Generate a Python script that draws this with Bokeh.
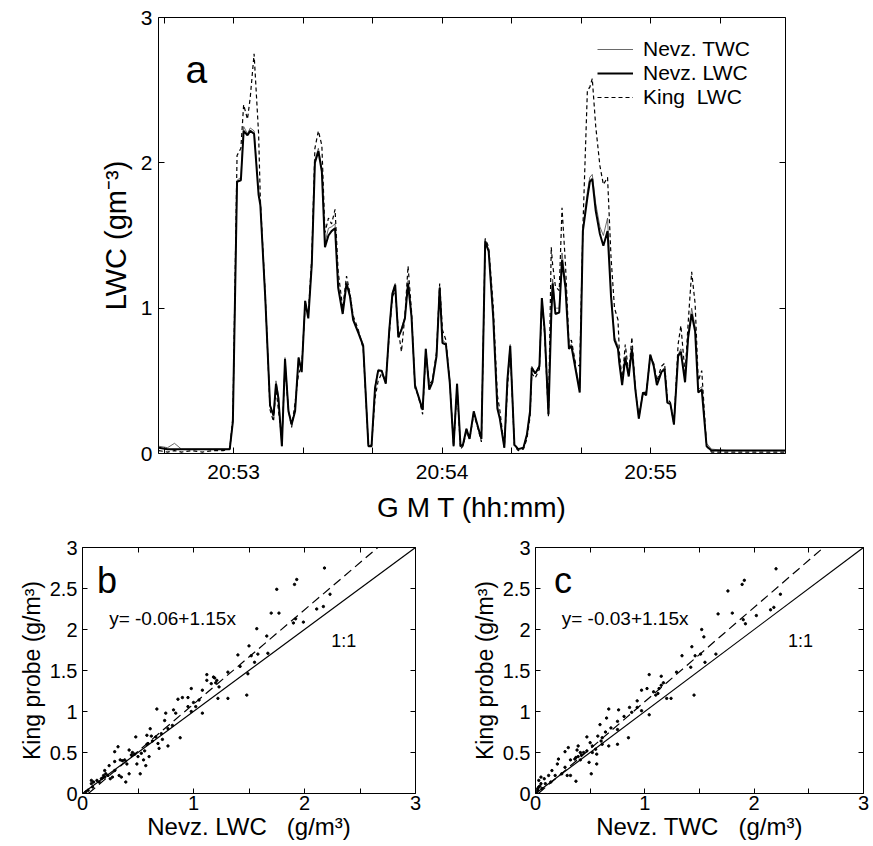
from bokeh.plotting import figure
from bokeh.models import Range1d, FixedTicker, LinearAxis, Legend, LegendItem, Label, Slope
from bokeh.layouts import column, row
from bokeh.embed import file_html
from bokeh.resources import INLINE

FONT = "Liberation Sans"

# ---------------- panel a data (seconds after 20:53:00) ----------------
t_sec = [-21.5, -19, -17, -15, -12, -9, -6, -3, -1.1, -0.2,
         1.0, 2.1, 2.9, 4.0, 4.8, 5.9, 7.2, 7.7, 9.1, 10.5,
         11.5, 12.2, 12.9, 13.9, 14.8, 15.8, 16.7, 17.7, 18.7, 19.6,
         20.6, 21.5, 22.5, 23.4, 24.4, 25.4, 26.3, 27.3, 28.2, 29.2,
         30.1, 31.4, 32.5, 33.5, 34.4, 35.9, 37.3, 38.8, 39.7, 40.7,
         41.6, 42.6, 43.8, 44.8, 45.7, 46.5, 47.4, 48.3, 49.3, 50.2,
         51.2, 52.2, 53.1, 54.4, 55.3, 56.3, 57.2, 58.4, 59.3, 60.1,
         61.1, 62.2, 63.3, 64.3, 65.3, 66.0, 67.0, 67.9, 69.1, 70.0,
         71.3, 72.4, 73.4, 74.7, 75.9, 76.6, 77.9, 78.8, 79.6, 80.8,
         81.9, 83.4, 84.4, 85.3, 85.8, 86.8, 88.0, 88.7, 89.5, 90.6,
         91.4, 91.8, 92.6, 93.7, 94.5, 95.5, 96.5, 97.2, 98.4, 99.6,
         100.5, 101.8, 102.5, 103.2, 104.2, 105.4, 106.4, 107.6, 108.6, 109.6,
         110.6, 111.0, 111.8, 112.7, 113.7, 114.6, 115.6, 116.6, 117.8, 118.7,
         119.9, 120.9, 121.8, 123.1, 124.0, 124.8, 125.7, 126.7, 127.9, 128.7,
         129.9, 130.8, 131.8, 132.8, 133.7, 134.7, 136.1, 137.5, 142, 148,
         154, 158.8]

nevz_lwc = [0.04, 0.03, 0.03, 0.03, 0.03, 0.03, 0.03, 0.03, 0.03, 0.22,
            1.87, 1.88, 2.22, 2.19, 2.22, 2.20, 1.78, 1.71, 1.08, 0.33,
            0.26, 0.48, 0.38, 0.05, 0.65, 0.29, 0.20, 0.29, 0.66, 0.56,
            1.05, 0.93, 1.30, 2.00, 2.08, 1.94, 1.42, 1.50, 1.53, 1.55,
            1.14, 0.96, 1.17, 1.08, 0.92, 0.83, 0.74, 0.05, 0.05, 0.45,
            0.57, 0.57, 0.48, 0.85, 1.10, 1.16, 0.80, 0.85, 0.93, 1.17,
            0.94, 0.47, 0.40, 0.30, 0.72, 0.44, 0.49, 0.67, 1.14, 0.76,
            0.75, 0.49, 0.05, 0.48, 0.05, 0.06, 0.17, 0.10, 0.29, 0.21,
            0.10, 1.46, 1.39, 0.94, 0.31, 0.24, 0.04, 0.51, 0.74, 0.06,
            0.03, 0.04, 0.13, 0.29, 0.59, 0.55, 0.60, 1.07, 0.85, 0.27,
            0.94, 1.17, 0.96, 0.97, 1.33, 1.14, 0.72, 0.74, 0.58, 0.42,
            1.53, 1.76, 1.87, 1.89, 1.67, 1.51, 1.43, 1.53, 1.08, 0.78,
            0.72, 0.62, 0.47, 0.66, 0.53, 0.72, 0.44, 0.24, 0.42, 0.40,
            0.68, 0.60, 0.47, 0.56, 0.58, 0.35, 0.34, 0.20, 0.67, 0.70,
            0.49, 0.80, 0.96, 0.84, 0.42, 0.44, 0.05, 0.02, 0.02, 0.02,
            0.02, 0.02]

king_lwc = [0.02, 0.01, 0.02, 0.01, 0.02, 0.01, 0.02, 0.02, 0.03, 0.25,
            2.05, 2.10, 2.40, 2.30, 2.45, 2.75, 2.20, 1.75, 1.10, 0.30,
            0.22, 0.45, 0.30, 0.10, 0.60, 0.30, 0.18, 0.35, 0.55, 0.60,
            1.02, 0.95, 1.35, 2.10, 2.22, 2.12, 1.52, 1.62, 1.58, 1.68,
            1.25, 1.00, 1.22, 1.10, 0.95, 0.85, 0.72, 0.05, 0.06, 0.38,
            0.50, 0.55, 0.50, 0.82, 1.08, 1.12, 0.85, 0.70, 0.95, 1.29,
            0.98, 0.45, 0.40, 0.27, 0.70, 0.48, 0.50, 0.70, 1.17, 0.85,
            0.78, 0.50, 0.05, 0.45, 0.03, 0.05, 0.15, 0.10, 0.27, 0.20,
            0.08, 1.48, 1.42, 1.02, 0.40, 0.30, 0.04, 0.45, 0.72, 0.05,
            0.02, 0.03, 0.10, 0.25, 0.55, 0.52, 0.58, 1.05, 0.82, 0.25,
            1.42, 1.30, 1.15, 1.12, 1.69, 1.30, 0.76, 0.78, 0.62, 0.60,
            1.55, 2.50, 2.52, 2.58, 2.25, 1.98, 1.85, 1.90, 1.35, 1.00,
            0.92, 0.70, 0.50, 0.75, 0.55, 0.80, 0.45, 0.25, 0.42, 0.42,
            0.66, 0.62, 0.50, 0.60, 0.62, 0.38, 0.35, 0.20, 0.75, 0.88,
            0.55, 0.90, 1.25, 1.03, 0.50, 0.57, 0.05, 0.01, 0.01, 0.01,
            0.01, 0.01]

nevz_twc = [0.05, 0.04, 0.07, 0.03, 0.03, 0.03, 0.03, 0.03, 0.03, 0.22,
            1.88, 1.90, 2.25, 2.20, 2.24, 2.22, 1.80, 1.72, 1.08, 0.33,
            0.26, 0.50, 0.40, 0.05, 0.66, 0.30, 0.20, 0.30, 0.66, 0.57,
            1.05, 0.94, 1.30, 2.02, 2.10, 1.96, 1.45, 1.55, 1.56, 1.58,
            1.16, 0.97, 1.18, 1.09, 0.93, 0.84, 0.75, 0.05, 0.05, 0.46,
            0.58, 0.57, 0.49, 0.86, 1.10, 1.17, 0.80, 0.86, 0.94, 1.19,
            0.95, 0.47, 0.40, 0.30, 0.72, 0.45, 0.50, 0.68, 1.15, 0.78,
            0.76, 0.49, 0.05, 0.48, 0.05, 0.06, 0.17, 0.10, 0.29, 0.21,
            0.10, 1.47, 1.40, 0.96, 0.33, 0.25, 0.04, 0.52, 0.75, 0.06,
            0.03, 0.04, 0.13, 0.29, 0.60, 0.55, 0.61, 1.07, 0.86, 0.28,
            0.98, 1.20, 1.00, 1.00, 1.38, 1.18, 0.74, 0.75, 0.60, 0.45,
            1.55, 1.80, 1.90, 1.92, 1.72, 1.56, 1.50, 1.62, 1.12, 0.80,
            0.74, 0.63, 0.48, 0.67, 0.54, 0.73, 0.45, 0.24, 0.42, 0.41,
            0.68, 0.61, 0.48, 0.57, 0.59, 0.36, 0.34, 0.20, 0.68, 0.72,
            0.50, 0.82, 1.00, 0.87, 0.44, 0.46, 0.07, 0.03, 0.02, 0.02,
            0.02, 0.02]

time_ticks = [0, 60, 120]
time_labels = ["20:53", "20:54", "20:55"]
time_minor = [-20, 20, 40, 80, 100, 140]
lwc_ticks = [0, 1, 2, 3]

# ---------------- panel b data: King vs Nevz LWC ----------------
b_x = [2.18, 1.93, 1.91, 1.75, 1.70, 1.77, 1.90, 1.92, 1.99, 2.11, 2.17, 2.23, 1.57, 1.66,
       1.50, 1.40, 1.52, 1.55, 1.58, 1.67, 1.49, 1.42, 1.31, 1.12, 1.19, 1.20, 1.23, 1.31,
       1.22, 1.48, 0.98, 1.08, 1.05, 1.02, 0.95, 0.98, 1.08, 0.67, 0.75, 0.82, 0.84, 0.74,
       0.81, 0.77, 0.71, 0.72, 0.68, 0.77, 0.69, 0.88, 0.58, 0.62, 0.48, 0.59, 0.56, 0.53,
       0.55, 0.60, 0.42, 0.45, 0.50, 0.38, 0.40, 0.49, 0.57, 0.32, 0.29, 0.34, 0.29, 0.24,
       0.20, 0.29, 0.33, 0.35, 0.39, 0.52, 0.23, 0.20, 0.17, 0.15, 0.10, 0.08, 0.08, 0.09,
       0.05, 0.03, 0.25, 0.27, 0.42, 0.61, 0.66, 0.86, 0.90, 1.12, 1.16, 0.95, 1.00, 0.19,
       0.21, 0.18, 0.13, 0.47, 0.58, 0.63, 1.18, 1.21, 0.36, 0.44]
b_y = [2.75, 2.61, 2.55, 2.49, 2.20, 2.20, 2.08, 2.13, 2.09, 2.25, 2.28, 2.43, 2.01, 1.92,
       1.80, 1.69, 1.68, 1.60, 1.70, 1.71, 1.46, 1.55, 1.48, 1.45, 1.41, 1.35, 1.30, 1.16,
       1.16, 1.20, 1.28, 1.26, 1.14, 1.06, 1.06, 1.00, 0.98, 1.03, 0.98, 1.02, 0.98, 0.89,
       0.83, 0.79, 0.73, 0.66, 0.61, 0.58, 0.55, 0.68, 0.71, 0.70, 0.69, 0.61, 0.52, 0.49,
       0.41, 0.45, 0.53, 0.50, 0.45, 0.41, 0.36, 0.36, 0.34, 0.57, 0.51, 0.41, 0.39, 0.34,
       0.28, 0.28, 0.22, 0.20, 0.14, 0.24, 0.22, 0.20, 0.18, 0.14, 0.14, 0.16, 0.12, 0.08,
       0.04, 0.02, 0.18, 0.20, 0.24, 0.79, 0.69, 1.15, 1.17, 1.38, 1.34, 1.17, 1.11, 0.22,
       0.24, 0.19, 0.16, 0.48, 0.60, 0.64, 1.42, 1.38, 0.40, 0.47]
b_fit = (-0.06, 1.15)   # intercept, slope

# ---------------- panel c data: King vs Nevz TWC ----------------
c_x = [2.20, 1.91, 1.89, 1.76, 1.67, 1.80, 1.90, 1.92, 2.02, 2.15, 2.18, 2.24, 1.52, 1.54,
       1.43, 1.34, 1.46, 1.51, 1.55, 1.65, 1.45, 1.42, 1.29, 1.04, 1.15, 1.17, 1.02, 0.97,
       1.08, 1.20, 1.24, 1.04, 0.93, 0.97, 0.88, 0.67, 0.76, 0.81, 0.75, 0.69, 0.64, 0.75,
       0.85, 0.75, 0.67, 0.61, 0.57, 0.47, 0.50, 0.61, 0.55, 0.56, 0.52, 0.49, 0.56, 0.51,
       0.39, 0.38, 0.41, 0.30, 0.27, 0.37, 0.32, 0.41, 0.21, 0.20, 0.27, 0.15, 0.24, 0.29,
       0.32, 0.37, 0.18, 0.12, 0.08, 0.05, 0.05, 0.09, 0.14, 0.03, 0.02, 0.01, 0.03, 0.06,
       0.65, 0.59, 0.86, 0.93, 1.13, 1.15, 0.36, 0.39, 0.42, 0.44, 0.47, 0.52, 0.60, 0.02,
       0.04, 1.10, 1.12]
c_y = [2.74, 2.60, 2.55, 2.47, 2.19, 2.20, 2.12, 2.07, 2.17, 2.24, 2.27, 2.43, 2.00, 1.91,
       1.79, 1.68, 1.68, 1.70, 1.60, 1.70, 1.20, 1.54, 1.48, 1.45, 1.43, 1.35, 1.28, 1.26,
       1.24, 1.16, 1.16, 0.96, 1.05, 1.01, 0.99, 1.03, 1.02, 0.94, 0.88, 0.80, 0.75, 0.78,
       0.68, 0.60, 0.58, 0.68, 0.70, 0.69, 0.62, 0.60, 0.54, 0.48, 0.50, 0.38, 0.36, 0.24,
       0.58, 0.53, 0.50, 0.56, 0.51, 0.44, 0.41, 0.41, 0.42, 0.36, 0.32, 0.28, 0.24, 0.22,
       0.22, 0.15, 0.22, 0.22, 0.18, 0.20, 0.12, 0.12, 0.14, 0.08, 0.04, 0.01, 0.16, 0.06,
       0.92, 0.84, 1.05, 1.13, 1.28, 1.32, 0.42, 0.45, 0.47, 0.50, 0.52, 0.58, 0.64, 0.06,
       0.09, 1.20, 1.22]
c_fit = (-0.03, 1.15)

scat_xticks = [0, 1, 2, 3]
scat_xlabels = ["0", "1", "2", "3"]
scat_xminor = [0.5, 1.5, 2.5]
scat_yticks = [0, 0.5, 1, 1.5, 2, 2.5, 3]
scat_ylabels = ["0", "0.5", "1", "1.5", "2", "2.5", "3"]


def style_axis(ax, size, tick_in):
    ax.major_tick_in = tick_in
    ax.major_tick_out = 0
    ax.minor_tick_in = tick_in
    ax.minor_tick_out = 0
    ax.axis_line_color = None
    ax.major_tick_line_color = "black"
    ax.minor_tick_line_color = "black"
    ax.major_tick_line_width = 1
    ax.minor_tick_line_width = 1
    ax.major_label_text_font = FONT
    ax.major_label_text_font_size = size
    ax.major_label_text_color = "black"
    ax.axis_label_text_font = FONT
    ax.axis_label_text_font_style = "normal"
    ax.axis_label_text_color = "black"


def add_frame_axes(p, xticks, yticks, tick_in):
    # unlabeled tick marks on the top and right edges (drawn as minor ticks)
    top = LinearAxis(ticker=FixedTicker(ticks=[], minor_ticks=xticks))
    right = LinearAxis(ticker=FixedTicker(ticks=[], minor_ticks=yticks))
    for ax in (top, right):
        style_axis(ax, "12px", tick_in)
        ax.major_label_standoff = 0
    p.add_layout(top, "above")
    p.add_layout(right, "right")


def base_fig(w, h, xr, yr, ml, mr, mt, mb):
    p = figure(width=w, height=h, x_range=xr, y_range=yr,
               output_backend="svg", toolbar_location=None,
               min_border_left=ml, min_border_right=mr,
               min_border_top=mt, min_border_bottom=mb)
    p.xgrid.visible = False
    p.ygrid.visible = False
    p.outline_line_color = "black"
    p.outline_line_width = 1
    p.background_fill_color = "white"
    p.border_fill_color = "white"
    return p


# ---------------- panel a ----------------
pa = base_fig(873, 525, Range1d(-21.6, 158.8), Range1d(0, 3), 158, 88, 17, 66)
r_king = pa.line(t_sec, king_lwc, line_color="black", line_width=1.2, line_dash="4 3")
r_twc = pa.line(t_sec, nevz_twc, line_color="#444444", line_width=0.8)
r_lwc = pa.line(t_sec, nevz_lwc, line_color="black", line_width=2)

pa.xaxis.ticker = FixedTicker(ticks=time_ticks, minor_ticks=time_minor)
pa.xaxis.major_label_overrides = {tk: lb for tk, lb in zip(time_ticks, time_labels)}
pa.yaxis.ticker = FixedTicker(ticks=lwc_ticks)
for ax in pa.xaxis + pa.yaxis:
    style_axis(ax, "21px", 6)
pa.xaxis.major_label_standoff = 6
pa.yaxis.major_label_standoff = 6
pa.xaxis.axis_label = "G M T (hh:mm)"
pa.yaxis.axis_label = "LWC (gm\u207b\u00b3)"
pa.xaxis.axis_label_text_font_size = "28px"
pa.yaxis.axis_label_text_font_size = "29px"
pa.xaxis.axis_label_standoff = 6
pa.yaxis.axis_label_standoff = 6
add_frame_axes(pa, time_ticks + time_minor, lwc_ticks, 6)

legend = Legend(items=[LegendItem(label="Nevz. TWC", renderers=[r_twc]),
                       LegendItem(label="Nevz. LWC", renderers=[r_lwc]),
                       LegendItem(label="King\u00a0\u00a0LWC", renderers=[r_king])],
                location="top_right")
legend.padding = 0
legend.margin = 20
legend.spacing = 0
legend.glyph_width = 36
legend.glyph_height = 24
legend.label_height = 24
legend.label_width = 122
legend.label_standoff = 10
legend.label_text_font = FONT
legend.label_text_font_size = "21px"
legend.label_text_color = "black"
legend.border_line_alpha = 0
legend.background_fill_alpha = 0
pa.add_layout(legend)

pa.add_layout(Label(x=-13.8, y=2.64, text="a", text_font=FONT, text_font_size="39px",
                    text_baseline="alphabetic", text_color="black"))


# ---------------- panels b and c ----------------
def scatter_panel(w, ml, mr, xs, ys, fit, letter, lx, eq, onex, xtitle):
    p = base_fig(w, 321, Range1d(0, 3), Range1d(0, 3), ml, mr, 22, 53)
    p.add_layout(Slope(gradient=1.0, y_intercept=0.0, line_color="black", line_width=1.2))
    p.add_layout(Slope(gradient=fit[1], y_intercept=fit[0], line_color="black",
                       line_width=1.2, line_dash="9 5"))
    p.scatter(xs, ys, size=2.4, marker="circle", color="black")
    p.xaxis.ticker = FixedTicker(ticks=scat_xticks, minor_ticks=scat_xminor)
    p.yaxis.ticker = FixedTicker(ticks=scat_yticks)
    p.xaxis.major_label_overrides = {tk: lb for tk, lb in zip(scat_xticks, scat_xlabels)}
    p.yaxis.major_label_overrides = {tk: lb for tk, lb in zip(scat_yticks, scat_ylabels)}
    for ax in p.xaxis + p.yaxis:
        style_axis(ax, "20px", 5)
    p.xaxis.major_label_standoff = 2
    p.yaxis.major_label_standoff = 5
    p.xaxis.axis_label = xtitle
    p.yaxis.axis_label = "King probe (g/m\u00b3)"
    p.xaxis.axis_label_text_font_size = "24px"
    p.yaxis.axis_label_text_font_size = "23px"
    p.xaxis.axis_label_standoff = 0
    p.yaxis.axis_label_standoff = 2
    add_frame_axes(p, scat_xticks + scat_xminor, scat_yticks, 5)
    p.add_layout(Label(x=lx, y=2.6, text=letter, text_font=FONT, text_font_size="36px",
                       text_baseline="alphabetic", text_color="black"))
    p.add_layout(Label(x=0.24, y=2.14, text=eq, text_font=FONT, text_font_size="19px",
                       text_baseline="alphabetic", text_color="black"))
    p.add_layout(Label(x=onex, y=1.86, text="1:1", text_font=FONT, text_font_size="18px",
                       text_baseline="alphabetic", text_color="black"))
    return p


pb = scatter_panel(450, 82, 35, b_x, b_y, b_fit, "b", 0.13, "y= -0.06+1.15x", 2.24,
                   "Nevz. LWC\u00a0\u00a0\u00a0(g/m\u00b3)")
pc = scatter_panel(423, 85, 10, c_x, c_y, c_fit, "c", 0.17, "y= -0.03+1.15x", 2.31,
                   "Nevz. TWC\u00a0\u00a0\u00a0(g/m\u00b3)")

layout = column(pa, row(pb, pc))
open("out.html", "w").write(file_html(layout, INLINE))
